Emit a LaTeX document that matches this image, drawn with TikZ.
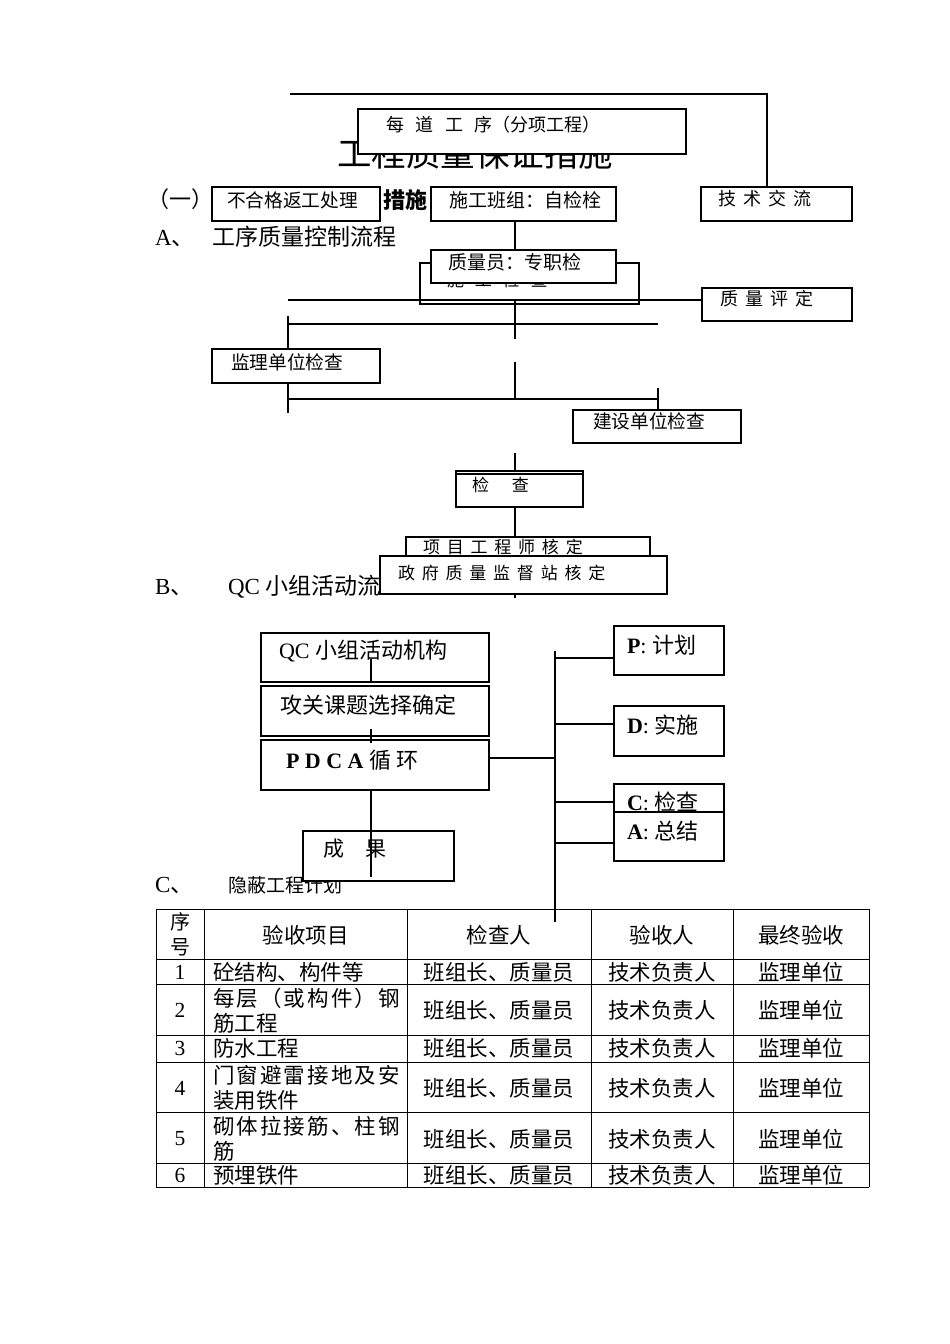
\documentclass[tikz,border=0pt]{standalone}
\usepackage{fontspec}
\setmainfont{Liberation Serif}
\newfontfamily\cjk{Noto Sans CJK SC}
\newfontfamily\cjkspaced[LetterSpace=40]{Noto Sans CJK SC}
\newfontfamily\cjkwide[LetterSpace=64]{Noto Sans CJK SC}
\newfontfamily\cjkjust[LetterSpace=10]{Noto Sans CJK SC}
\tikzstyle{every node}=[inner sep=0pt, outer sep=0pt]
\tikzstyle{box} = [rectangle, draw=black, fill=white, line width=1.3pt, anchor=north west]
\tikzstyle{boxtext} = [anchor=west, font=\cjk\fontsize{18.7}{20}\selectfont]
\tikzstyle{spaced} = [anchor=west, font=\cjkspaced\fontsize{17.5}{20}\selectfont]
\tikzstyle{qctext} = [anchor=west, font=\fontsize{22}{24}\selectfont]
\tikzstyle{sec} = [anchor=west, font=\fontsize{23}{25}\selectfont]
\tikzstyle{heading} = [anchor=west, font=\cjk\fontsize{22}{24}\selectfont]
\tikzstyle{line} = [line width=1.3pt]
\tikzstyle{thickline} = [line width=2pt]
\tikzstyle{grid} = [line width=1pt]
\tikzstyle{cell} = [font=\cjk\fontsize{21.5}{25}\selectfont]
\tikzstyle{num} = [font=\fontsize{21.5}{25}\selectfont]

\begin{document}
\begin{tikzpicture}[x=1pt,y=-1pt]
\fill[white] (0,0) rectangle (950,1344);
\useasboundingbox (0,0) rectangle (950,1344);

% headings
\node[font=\cjk\fontsize{34.5}{36}\selectfont] (title) at (475,153) {工程质量保证措施};
\node[heading] (h1) at (147,199) {（一）};
\node[heading, font=\cjk\bfseries\fontsize{22}{24}\selectfont] (h1b) at (383,200) {措施};
\node[sec] (ha) at (155,237) {\makebox[57pt][l]{A{\cjk 、}}{\cjk 工序质量控制流程}};
\node[sec] (hb) at (155,587) {\makebox[73pt][l]{B{\cjk 、}}QC {\cjk 小组活动流}};
\node[sec] (hc) at (155,885) {\makebox[73pt][l]{C{\cjk 、}}{\cjk\fontsize{19}{20}\selectfont 隐蔽工程计划}};

% A flow
\node[box, minimum width=328, minimum height=45] (gx) at (358,109) {};
\node[boxtext, font=\cjkwide\fontsize{18}{20}\selectfont] (gxt) at (386,125) {每道工序{\cjk （分项工程）}};
\node[box, minimum width=168, minimum height=34] (fhg) at (212,187) {};
\node[boxtext] (fhgt) at (227,200) {不合格返工处理};
\node[box, minimum width=185, minimum height=34] (bz) at (431,187) {};
\node[boxtext, font=\cjk\fontsize{19}{20}\selectfont] (bzt) at (449,200) {施工班组：自检栓};
\node[box, minimum width=151, minimum height=34] (jsjl) at (701,187) {};
\node[spaced, font=\cjkspaced\fontsize{18}{20}\selectfont] (jsjlt) at (718,199) {技术交流};
\node[box, minimum width=219, minimum height=41] (sgjc) at (420,263) {};
\node[boxtext, font=\cjkwide\fontsize{17}{20}\selectfont] (sgjct) at (447,280) {施工检查};
\node[box, minimum width=185, minimum height=33] (zjy) at (431,250) {};
\node[boxtext, font=\cjk\fontsize{19}{20}\selectfont] (zjyt) at (448,262) {质量员：专职检};
\node[box, minimum width=150, minimum height=33] (zlpd) at (702,288) {};
\node[spaced, font=\cjkspaced\fontsize{18}{20}\selectfont] (zlpdt) at (720,299) {质量评定};
\node[box, minimum width=168, minimum height=34] (jl) at (212,349) {};
\node[boxtext] (jlt) at (231,362) {监理单位检查};
\node[box, minimum width=168, minimum height=33] (js) at (573,410) {};
\node[boxtext] (jst) at (593,421) {建设单位检查};
\node[box, minimum width=127, minimum height=36] (jcb) at (456,471) {};
\node[box, minimum width=127, minimum height=33] (jc) at (456,474) {};
\node[boxtext, font=\cjk\fontsize{17}{20}\selectfont] (jct) at (472,485) {检\hspace{23pt}查};
\node[box, minimum width=244, minimum height=30] (xm) at (406,537) {};
\node[spaced, font=\cjkspaced\fontsize{17}{20}\selectfont] (xmt) at (423,546.5) {项目工程师核定};
\node[box, minimum width=287, minimum height=38] (zf) at (380,556) {};
\node[spaced, font=\cjkspaced\fontsize{17}{20}\selectfont] (zft) at (398,573) {政府质量监督站核定};

\coordinate (sp) at (515,0);
\coordinate (lb) at (288,0);
\coordinate (rb) at (658,0);
\draw[line] (290,94) -| ([xshift=66pt]jsjl.north west);
\draw[line] (bz.south -| sp) -- (zjy.north -| sp);
\draw[line] (lb |- 0,300) -- (zlpd.west |- 0,300);
\draw[line] (sp |- 0,300) -- (sp |- 0,339);
\draw[line] (lb |- 0,324) -- (rb |- 0,324);
\draw[thickline] (lb |- 0,316) -- (lb |- jl.north);
\draw[thickline] (lb |- jl.south) -- (lb |- 0,413);
\draw[line] (sp |- 0,362) -- (sp |- 0,399);
\draw[line] (lb |- 0,399) -- (rb |- 0,399);
\draw[line] (rb |- 0,388) -- (rb |- js.north);
\draw[line] (sp |- 0,453) -- (sp |- jcb.north);
\draw[line] (sp |- jc.south) -- (sp |- xm.north);
\draw[line] (sp |- zf.south) -- (sp |- 0,598);

% B: QC
\node[box, minimum width=228, minimum height=49] (qc) at (261,633) {};
\node[qctext] (qct) at (279,651) {QC {\cjk 小组活动机构}};
\node[box, minimum width=228, minimum height=50] (gg) at (261,686) {};
\node[qctext] (ggt) at (280,705) {{\cjk 攻关课题选择确定}};
\node[box, minimum width=228, minimum height=50] (pdca) at (261,740) {};
\node[qctext] (pdcat) at (286,760) {\textbf{P D C A} {\cjk 循} {\cjk 环}};
\node[box, minimum width=151, minimum height=50] (cg) at (303,831) {};
\node[qctext, font=\cjk\fontsize{21}{24}\selectfont] (cgt) at (323,849) {成　果};
\node[box, minimum width=110, minimum height=49] (p) at (614,626) {};
\node[qctext] (pt) at (627,645) {\textbf{P}: {\cjk 计划}};
\node[box, minimum width=110, minimum height=50] (d) at (614,706) {};
\node[qctext] (dt) at (627,725) {\textbf{D}: {\cjk 实施}};
\node[box, minimum width=110, minimum height=28] (c) at (614,784) {};
\node[qctext] (ct) at (627,802) {\textbf{C}: {\cjk 检查}};
\node[box, minimum width=110, minimum height=49] (a) at (614,812) {};
\node[qctext] (at) at (627,831) {\textbf{A}: {\cjk 总结}};

\coordinate (ql) at (371,0);
\coordinate (bus) at (555,651);
\draw[line] (ql |- 0,659) -- (ql |- qc.south);
\draw[line] (ql |- 0,729) -- (ql |- 0,743);
\draw[line] (ql |- pdca.south) -- (ql |- 0,877);
\draw[line] (bus) -- (bus |- 0,922);
\draw[line] (pdca.east |- 0,758) -- (bus |- 0,758);
\foreach \b/\y in {p/658, d/724, c/802, a/843}
  \draw[line] (bus |- 0,\y) -- (\b.west |- 0,\y);

% C: table
\foreach \x in {156,204,407,591,733,869}
  \draw[grid] (\x,909) -- (\x,1187);
\foreach \y in {909,959,984,1035,1062,1112,1163,1187}
  \draw[grid] (156,\y) -- (869,\y);
\node[cell, align=center, font=\cjk\fontsize{20}{25}\selectfont] (th1) at (180,934) {序\\号};
\node[cell] (th2) at (305.5,935) {验收项目};
\node[cell] (th3) at (499,935) {检查人};
\node[cell] (th4) at (662,935) {验收人};
\node[cell] (th5) at (801,935) {最终验收};
\foreach \n/\y/\what in {1/972/{砼结构、构件等}, 2/1010.5/{{\cjkjust 每层（或构件）钢}\\筋工程}, 3/1048/{防水工程}, 4/1088/{{\cjkjust 门窗避雷接地及安}\\装用铁件}, 5/1139/{{\cjkjust 砌体拉接筋、柱钢}\\筋}, 6/1175/{预埋铁件}} {
  \node[num] (n\n) at (180,\y) {\n};
  \node[cell, anchor=west, align=left] (item\n) at (213,\y) {\what};
  \node[cell] (chk\n) at (499,\y) {班组长、质量员};
  \node[cell] (acc\n) at (662,\y) {技术负责人};
  \node[cell] (fin\n) at (801,\y) {监理单位};
}
\end{tikzpicture}
\end{document}
